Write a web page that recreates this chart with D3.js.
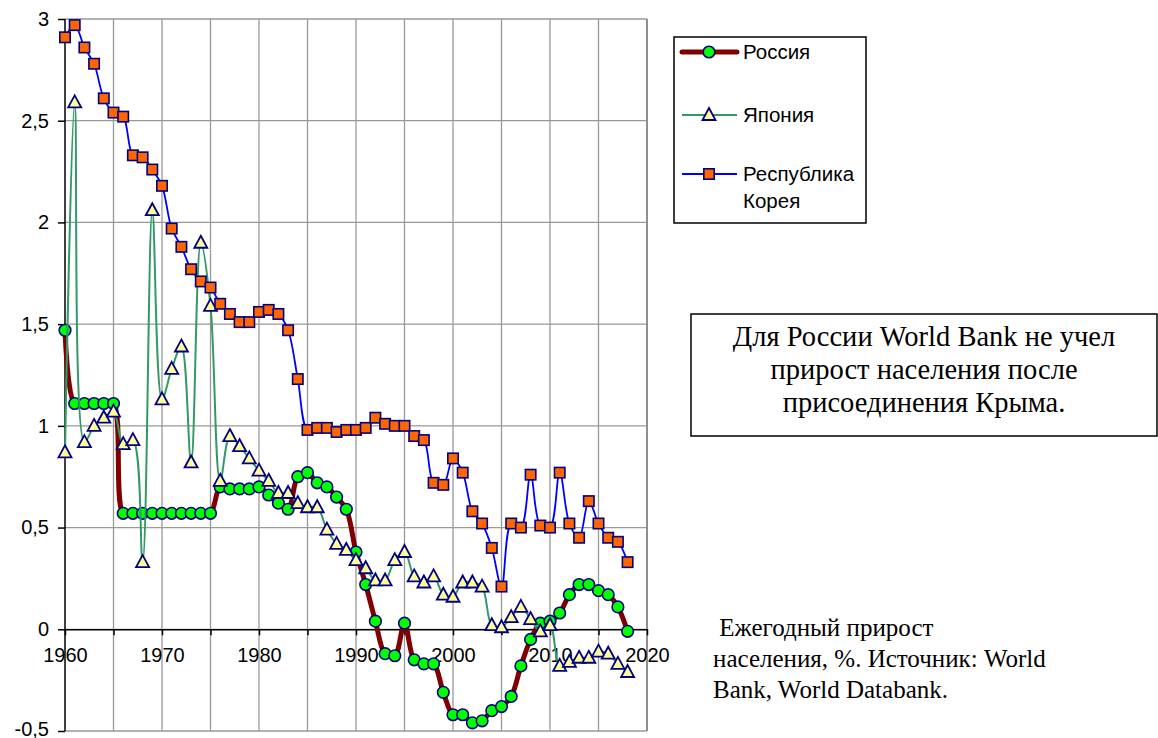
<!DOCTYPE html>
<html>
<head>
<meta charset="utf-8">
<script src="https://cdn.jsdelivr.net/npm/d3@7"></script>
<style>
  body { margin: 0; background: #fff; }
  svg { display: block; }
</style>
</head>
<body>
<div id="chart"></div>
<script>
// годы и значения (ежегодный прирост населения, %)
const years = d3.range(1960, 2019);

const russia = [
  1.47, 1.11, 1.11, 1.11, 1.11, 1.11, 0.57, 0.57, 0.57, 0.57,
  0.57, 0.57, 0.57, 0.57, 0.57, 0.57, 0.70, 0.69, 0.69, 0.69,
  0.70, 0.66, 0.62, 0.59, 0.75, 0.77, 0.72, 0.70, 0.65, 0.59,
  0.38, 0.22, 0.04, -0.12, -0.13, 0.03, -0.15, -0.17, -0.17, -0.31,
  -0.42, -0.42, -0.46, -0.45, -0.40, -0.38, -0.33, -0.18, -0.05, 0.03,
  0.04, 0.08, 0.17, 0.22, 0.22, 0.19, 0.17, 0.11, -0.01
];

const japan = [
  0.87, 2.59, 0.92, 1.00, 1.04, 1.07, 0.91, 0.93, 0.33, 2.06,
  1.13, 1.28, 1.39, 0.82, 1.90, 1.59, 0.73, 0.95, 0.90, 0.84,
  0.78, 0.73, 0.67, 0.67, 0.62, 0.60, 0.60, 0.49, 0.42, 0.39,
  0.34, 0.30, 0.24, 0.24, 0.34, 0.38, 0.26, 0.23, 0.26, 0.17,
  0.16, 0.23, 0.23, 0.21, 0.02, 0.01, 0.06, 0.11, 0.05, -0.01,
  0.02, -0.18, -0.16, -0.14, -0.14, -0.11, -0.12, -0.17, -0.21
];

const korea = [
  2.91, 2.97, 2.86, 2.78, 2.61, 2.54, 2.52, 2.33, 2.32, 2.26,
  2.18, 1.97, 1.88, 1.77, 1.71, 1.68, 1.60, 1.55, 1.51, 1.51,
  1.56, 1.57, 1.55, 1.47, 1.23, 0.98, 0.99, 0.99, 0.97, 0.98,
  0.98, 0.99, 1.04, 1.01, 1.00, 1.00, 0.95, 0.93, 0.72, 0.71,
  0.84, 0.77, 0.58, 0.52, 0.40, 0.21, 0.52, 0.50, 0.76, 0.51,
  0.50, 0.77, 0.52, 0.45, 0.63, 0.52, 0.45, 0.43, 0.33
];

const xTicks = d3.range(1960, 2021, 5);          // сетка и засечки каждые 5 лет
const xLabels = [1960, 1970, 1980, 1990, 2000, 2010, 2020];
const yTicks = [-0.5, 0, 0.5, 1, 1.5, 2, 2.5, 3];

const legendNames = ["Россия", "Япония", ["Республика", "Корея"]];
const noteLines = ["Для России World Bank не учел", "прирост населения после", "присоединения Крыма."];
const sourceLines = [" Ежегодный прирост", "населения, %. Источник: World", "Bank, World Databank."];

const width = 1158, height = 738;
const plot = {left: 65, right: 647, top: 19, bottom: 731};

const svg = d3.select("#chart").append("svg")
  .attr("width", width)
  .attr("height", height);

svg.append("rect").attr("width", width).attr("height", height).attr("fill", "#fff");

const x = d3.scaleLinear().domain([1960, 2020]).range([plot.left, plot.right]);
const y = d3.scaleLinear().domain([-0.5, 3]).range([plot.bottom, plot.top]);

// сетка
const grid = svg.append("g").attr("stroke", "#999").attr("stroke-width", 1.3);
grid.selectAll(".hg").data(yTicks).join("line")
  .attr("x1", plot.left).attr("x2", plot.right)
  .attr("y1", d => y(d)).attr("y2", d => y(d));
grid.selectAll(".vg").data(xTicks.slice(1)).join("line")
  .attr("x1", d => x(d)).attr("x2", d => x(d))
  .attr("y1", plot.top).attr("y2", plot.bottom);
svg.append("line")
  .attr("x1", plot.right).attr("x2", plot.right)
  .attr("y1", plot.top).attr("y2", plot.bottom)
  .attr("stroke", "#808080").attr("stroke-width", 1.5);

// оси
const fmt = d => String(d).replace(".", ",");
const yAxis = svg.append("g")
  .attr("transform", `translate(${plot.left},0)`)
  .call(d3.axisLeft(y).tickValues(yTicks).tickSize(7).tickPadding(9).tickFormat(fmt));
yAxis.select(".domain").attr("stroke", "#000").attr("stroke-width", 1.5)
  .attr("d", `M0,${plot.top}V${plot.bottom}`);
yAxis.selectAll(".tick line").attr("stroke", "#000").attr("stroke-width", 1.5);
yAxis.selectAll("text")
  .attr("dy", d => d === -0.5 ? "0.2em" : "0.32em")
  .style("font-family", "'Liberation Sans', Arial, sans-serif")
  .style("font-size", "20px").attr("fill", "#000");

const xAxis = svg.append("g")
  .attr("transform", `translate(0,${y(0)})`)
  .call(d3.axisBottom(x).tickValues(xTicks).tickSize(6).tickSizeOuter(0)
    .tickFormat(d => xLabels.includes(d) ? d : ""));
xAxis.select(".domain").attr("stroke", "#000").attr("stroke-width", 1.5);
xAxis.selectAll(".tick line").attr("stroke", "#000").attr("stroke-width", 1.5);
xAxis.selectAll("text")
  .attr("y", 0).attr("dy", "33px")
  .style("font-family", "'Liberation Sans', Arial, sans-serif")
  .style("font-size", "20px").attr("fill", "#000");

// ряды
const curve = d3.curveCatmullRom.alpha(0.5);
const series = [
  {name: "Россия", values: russia, line: "#800000", lw: 5, marker: "circle"},
  {name: "Япония", values: japan, line: "#339966", lw: 2, marker: "triangle"},
  {name: "Корея", values: korea, line: "#0000ff", lw: 1.8, marker: "square"}
];

function drawMarker(g, type, cx, cy) {
  if (type === "circle") {
    g.append("circle").attr("cx", cx).attr("cy", cy).attr("r", 5.8)
      .attr("fill", "#00ff00").attr("stroke", "#000080").attr("stroke-width", 1.6);
  } else if (type === "triangle") {
    g.append("path")
      .attr("d", `M${cx},${cy - 7}L${cx + 6.5},${cy + 5}L${cx - 6.5},${cy + 5}Z`)
      .attr("fill", "#ffff99").attr("stroke", "#000080").attr("stroke-width", 1.8)
      .attr("stroke-linejoin", "miter");
  } else {
    g.append("rect").attr("x", cx - 5.2).attr("y", cy - 5.2).attr("width", 10.4).attr("height", 10.4)
      .attr("fill", "#ff6600").attr("stroke", "#000080").attr("stroke-width", 1.6);
  }
}

series.forEach(s => {
  const pts = years.map((yr, i) => [x(yr), y(s.values[i])]);
  const g = svg.append("g");
  g.append("path")
    .attr("d", d3.line().curve(curve)(pts))
    .attr("fill", "none")
    .attr("stroke", s.line)
    .attr("stroke-width", s.lw)
    .attr("stroke-linejoin", "round");
  pts.forEach(p => drawMarker(g, s.marker, p[0], p[1]));
});

// легенда
const legend = svg.append("g");
legend.append("rect")
  .attr("x", 674).attr("y", 37).attr("width", 192).attr("height", 186)
  .attr("fill", "#fff").attr("stroke", "#000").attr("stroke-width", 1.5);
const legendY = [52, 115, 174];
series.forEach((s, i) => {
  const ly = legendY[i];
  legend.append("line")
    .attr("x1", 682).attr("x2", 737).attr("y1", ly).attr("y2", ly)
    .attr("stroke", s.line).attr("stroke-width", s.lw).attr("stroke-linecap", i === 0 ? "round" : "butt");
  drawMarker(legend, s.marker, 709, ly);
  const names = Array.isArray(legendNames[i]) ? legendNames[i] : [legendNames[i]];
  names.forEach((t, j) => {
    legend.append("text")
      .attr("x", 743).attr("y", ly + 7 + j * 27)
      .style("font-family", "'Liberation Sans', Arial, sans-serif")
      .style("font-size", "20.5px")
      .text(t);
  });
});

// примечание в рамке
const note = svg.append("g");
note.append("rect")
  .attr("x", 691).attr("y", 314).attr("width", 466).attr("height", 122)
  .attr("fill", "#fff").attr("stroke", "#000").attr("stroke-width", 1.5);
noteLines.forEach((t, i) => {
  note.append("text")
    .attr("x", 924).attr("y", 346 + i * 33)
    .attr("text-anchor", "middle")
    .style("font-family", "'Liberation Serif', 'Times New Roman', serif")
    .style("font-size", "28.5px")
    .text(t);
});

// источник
sourceLines.forEach((t, i) => {
  svg.append("text")
    .attr("x", 713).attr("y", 636 + i * 31)
    .attr("xml:space", "preserve")
    .style("white-space", "pre")
    .style("font-family", "'Liberation Serif', 'Times New Roman', serif")
    .style("font-size", "25px")
    .text(t);
});
</script>
</body>
</html>
